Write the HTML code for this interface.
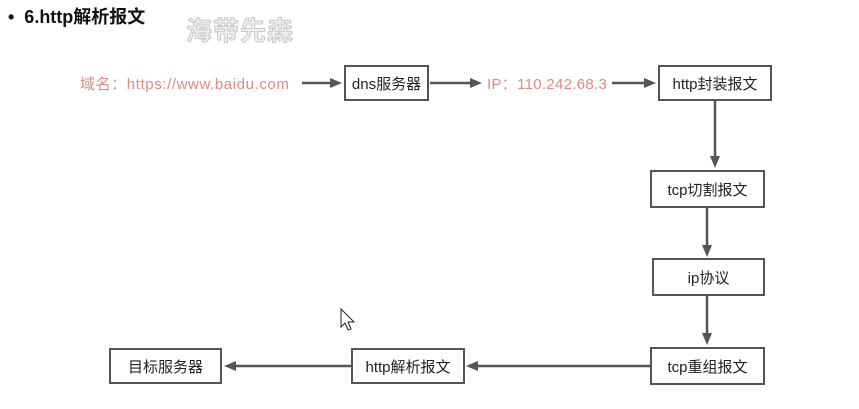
<!DOCTYPE html>
<html><head><meta charset="utf-8"><style>
body{margin:0;width:859px;height:409px;background:#fff;overflow:hidden;position:relative;font-family:"Liberation Sans","Noto Sans CJK SC",sans-serif;}
.b{position:absolute;border:2px solid #555;box-sizing:border-box;background:#fff;display:flex;align-items:center;justify-content:center;font-size:15px;color:#222;}
.t{position:absolute;font-size:15px;color:#e08a80;white-space:nowrap;}
</style></head><body>
<div style="position:absolute;left:8px;top:3px;font-size:18px;font-weight:bold;color:#111">•&nbsp; 6.http解析报文</div>
<div style="position:absolute;left:186px;top:11px;font-size:26px;font-weight:bold;color:#eee;-webkit-text-stroke:1px #c8c8c8;letter-spacing:1px">海带先森</div>
<div class="t" style="left:80px;top:73px;letter-spacing:0.6px">域名：https://www.baidu.com</div>
<div class="t" style="left:487px;top:73px;letter-spacing:0.3px">IP：110.242.68.3</div>
<div class="b" style="left:344px;top:65px;width:85px;height:36px">dns服务器</div>
<div class="b" style="left:658px;top:65px;width:114px;height:36px">http封装报文</div>
<div class="b" style="left:650px;top:170px;width:115px;height:38px">tcp切割报文</div>
<div class="b" style="left:652px;top:258px;width:113px;height:38px">ip协议</div>
<div class="b" style="left:650px;top:347px;width:115px;height:38px">tcp重组报文</div>
<div class="b" style="left:351px;top:348px;width:114px;height:36px">http解析报文</div>
<div class="b" style="left:109px;top:348px;width:113px;height:36px">目标服务器</div>
<svg width="859" height="409" style="position:absolute;left:0;top:0" stroke="#555" stroke-width="2.5" fill="#555">
<line x1="302" y1="83" x2="332" y2="83"/><polygon points="342,83 330,78 330,88" stroke="none"/>
<line x1="430" y1="83" x2="472" y2="83"/><polygon points="482,83 470,78 470,88" stroke="none"/>
<line x1="612" y1="83" x2="646" y2="83"/><polygon points="656,83 644,78 644,88" stroke="none"/>
<line x1="715" y1="101" x2="715" y2="158"/><polygon points="715,168 710,156 720,156" stroke="none"/>
<line x1="707" y1="208" x2="707" y2="247"/><polygon points="707,257 702,245 712,245" stroke="none"/>
<line x1="707" y1="296" x2="707" y2="335"/><polygon points="707,345 702,333 712,333" stroke="none"/>
<line x1="650" y1="366" x2="476" y2="366"/><polygon points="466,366 478,361 478,371" stroke="none"/>
<line x1="351" y1="366" x2="234" y2="366"/><polygon points="224,366 236,361 236,371" stroke="none"/>
<polygon points="341,309 341,327 345,323 348,330 351,329 348,322 354,322" fill="#fff" stroke="#222" stroke-width="1"/>
</svg>
</body></html>
